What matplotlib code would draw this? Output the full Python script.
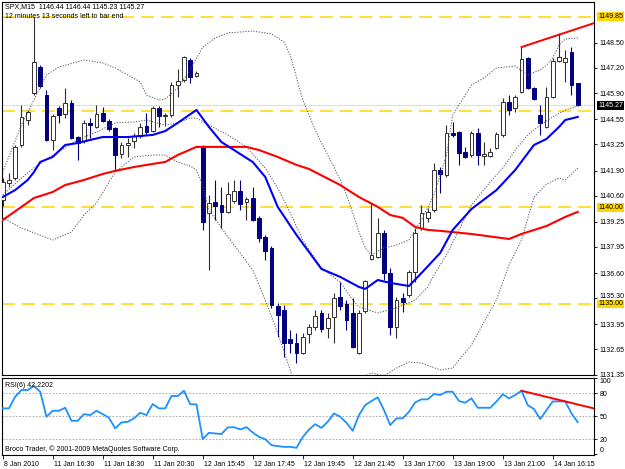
import numpy as np
import matplotlib
matplotlib.use("Agg")
import matplotlib.pyplot as plt
from matplotlib.transforms import blended_transform_factory, ScaledTranslation

plt.rcParams['font.family'] = ['Liberation Sans', 'DejaVu Sans']

# M15 bars (bar 0 = 8 Jan 21:15 ... bar 92 = 14 Jan 16:30)
opens = [1140.38, 1141.26, 1141.51, 1143.22, 1144.51, 1145.91, 1147.25, 1145.80, 1143.48, 1145.13,
         1144.82, 1145.39, 1143.63, 1143.43, 1144.36, 1144.15, 1144.87, 1144.46, 1144.10, 1142.75,
         1143.22, 1143.43, 1143.69, 1144.20, 1143.94, 1145.13, 1144.72, 1144.77, 1146.32, 1146.58,
         1147.61, 1146.79, 1143.12, 1139.71, 1140.27, 1140.12, 1139.76, 1140.33, 1140.84, 1140.27,
         1140.48, 1139.45, 1138.47, 1137.90, 1134.90, 1134.69, 1133.19, 1132.99, 1132.47, 1133.45,
         1133.81, 1134.54, 1133.76, 1134.33, 1135.36, 1135.00, 1134.54, 1132.47, 1134.64, 1137.33,
         1137.43, 1138.67, 1136.60, 1133.81, 1135.31, 1135.47, 1136.66, 1138.93, 1139.45, 1139.86,
         1141.93, 1141.67, 1143.84, 1143.89, 1142.86, 1142.70, 1143.84, 1142.65, 1142.65, 1143.06,
         1143.74, 1145.44, 1145.13, 1145.96, 1147.71, 1146.16, 1144.77, 1144.15, 1145.70, 1147.56,
         1147.51, 1148.03, 1146.44]
highs = [1141.51, 1141.77, 1143.22, 1145.29, 1145.03, 1149.83, 1147.35, 1146.06, 1144.82, 1145.23,
         1146.16, 1145.54, 1143.69, 1144.51, 1144.61, 1145.29, 1145.18, 1144.56, 1144.15, 1143.37,
         1143.58, 1143.84, 1144.36, 1144.87, 1145.23, 1145.23, 1144.87, 1146.47, 1147.15, 1147.82,
         1147.71, 1147.04, 1143.22, 1140.64, 1141.41, 1141.05, 1141.31, 1141.41, 1141.41, 1140.53,
         1141.05, 1139.55, 1138.57, 1138.00, 1135.05, 1134.95, 1133.66, 1133.50, 1133.50, 1133.97,
         1134.69, 1134.69, 1134.54, 1135.57, 1136.14, 1135.21, 1135.31, 1134.69, 1136.24, 1140.22,
         1139.45, 1138.83, 1136.86, 1135.36, 1135.57, 1136.76, 1138.93, 1140.12, 1139.96, 1142.29,
         1142.08, 1144.25, 1144.41, 1143.94, 1143.12, 1143.94, 1144.10, 1143.37, 1143.06, 1143.89,
         1145.65, 1145.80, 1145.80, 1148.28, 1147.77, 1146.22, 1145.29, 1146.22, 1147.71, 1149.01,
         1148.13, 1148.28, 1146.44]
lows = [1140.07, 1141.05, 1141.41, 1143.12, 1144.25, 1145.80, 1146.16, 1143.43, 1142.96, 1144.36,
        1144.61, 1143.53, 1142.44, 1143.32, 1143.58, 1144.10, 1144.41, 1143.94, 1141.93, 1142.55,
        1142.60, 1143.06, 1143.58, 1143.79, 1143.89, 1144.15, 1144.20, 1144.67, 1145.70, 1146.47,
        1146.42, 1146.73, 1138.83, 1136.76, 1139.34, 1138.93, 1139.71, 1140.22, 1139.86, 1139.34,
        1139.29, 1138.21, 1137.28, 1134.80, 1133.30, 1132.26, 1132.47, 1131.95, 1132.42, 1132.99,
        1133.66, 1133.56, 1133.25, 1132.99, 1134.69, 1133.66, 1132.73, 1132.42, 1134.54, 1137.28,
        1137.38, 1136.24, 1133.40, 1133.25, 1134.59, 1135.36, 1136.14, 1138.83, 1139.24, 1139.76,
        1140.74, 1141.57, 1143.63, 1142.19, 1142.55, 1142.60, 1142.19, 1142.19, 1142.60, 1143.01,
        1143.63, 1144.77, 1144.92, 1145.91, 1146.11, 1145.54, 1143.74, 1144.10, 1145.65, 1147.51,
        1146.47, 1145.80, 1145.23]
closes = [1141.31, 1141.41, 1143.12, 1144.67, 1144.92, 1147.51, 1146.27, 1143.48, 1144.72, 1144.77,
          1145.39, 1143.58, 1143.32, 1144.36, 1144.25, 1144.82, 1144.46, 1144.05, 1142.70, 1143.22,
          1143.32, 1143.69, 1144.15, 1143.89, 1145.13, 1144.72, 1144.77, 1146.32, 1146.53, 1147.77,
          1146.73, 1146.94, 1139.24, 1140.22, 1140.07, 1139.76, 1140.69, 1140.84, 1140.17, 1140.43,
          1139.34, 1138.41, 1137.74, 1134.95, 1134.43, 1132.99, 1132.99, 1132.47, 1133.30, 1133.81,
          1134.38, 1133.71, 1134.28, 1135.31, 1134.90, 1134.18, 1132.78, 1134.54, 1136.19, 1137.54,
          1138.67, 1136.60, 1133.81, 1135.21, 1135.11, 1136.66, 1138.67, 1139.71, 1139.76, 1141.93,
          1141.72, 1143.84, 1143.74, 1142.81, 1142.60, 1143.84, 1142.70, 1142.75, 1142.86, 1143.79,
          1145.44, 1145.03, 1145.70, 1147.66, 1146.16, 1145.60, 1144.36, 1145.70, 1147.56, 1147.77,
          1147.71, 1146.32, 1145.27]

# blue moving average
blue_idx = [0, 2, 4, 5, 6, 8, 10, 12, 14, 16, 20, 24, 26, 28, 31, 33, 35, 37, 40, 42, 44, 47, 49,
            51, 54, 57, 58, 60, 62, 65, 67, 70, 72, 75, 79, 82, 85, 87, 89, 90, 92]
blue_val = [1140.53, 1140.89, 1141.41, 1141.82, 1142.34, 1142.60, 1143.22, 1143.32, 1143.48, 1143.63,
            1143.63, 1143.74, 1143.94, 1144.36, 1145.03, 1144.15, 1143.37, 1142.96, 1142.34, 1141.57,
            1140.02, 1138.57, 1137.69, 1136.81, 1136.40, 1135.88, 1135.78, 1136.24, 1136.09, 1135.93,
            1136.60, 1137.64, 1138.83, 1139.91, 1140.89, 1141.93, 1143.22, 1143.53, 1144.15, 1144.51,
            1144.67]

# red moving average
red_idx = [0, 3, 5, 8, 10, 13, 16, 18, 21, 24, 26, 28, 31, 34, 39, 41, 44, 47, 49, 54, 57, 60, 62,
           64, 66, 68, 70, 75, 81, 83, 87, 90, 92]
red_val = [1139.34, 1140.02, 1140.48, 1140.79, 1141.15, 1141.41, 1141.72, 1141.88, 1142.08, 1142.24,
           1142.34, 1142.70, 1143.12, 1143.12, 1143.12, 1142.96, 1142.60, 1142.19, 1141.98, 1141.15,
           1140.53, 1140.02, 1139.60, 1139.45, 1138.98, 1138.83, 1138.78, 1138.62, 1138.36, 1138.62,
           1139.03, 1139.50, 1139.76]

# Bollinger bands (dotted)
bbu_idx = [0, 3, 5, 7, 9, 13, 16, 18, 20, 22, 23, 25, 26, 28, 30, 32, 34, 36, 40, 43, 45, 46, 48, 50,
           51, 53, 54, 55, 56, 57, 58, 59, 61, 63, 65, 67, 69, 71, 72, 73, 75, 77, 79, 82, 84, 86, 87,
           88, 89, 90, 92]
bbu_val = [1141.82, 1144.25, 1145.55, 1146.84, 1147.25, 1147.61, 1147.46, 1147.20, 1146.84, 1146.48,
           1145.80, 1145.55, 1145.60, 1146.17, 1147.10, 1148.28, 1148.75, 1149.01, 1149.11, 1148.96,
           1148.54, 1147.87, 1145.55, 1144.00, 1143.32, 1142.08, 1141.41, 1140.64, 1139.71, 1138.72,
           1137.90, 1137.54, 1137.90, 1138.05, 1138.31, 1139.34, 1140.64, 1142.70, 1144.77, 1145.29,
           1146.32, 1146.68, 1147.20, 1147.30, 1146.84, 1147.10, 1147.35, 1147.71, 1148.39, 1148.70,
           1148.75]
bbm_idx = [0, 3, 5, 8, 12, 15, 18, 21, 23, 26, 28, 30, 31, 33, 36, 39, 42, 44, 46, 48, 51, 54, 56,
           57, 60, 63, 66, 68, 69, 71, 73, 75, 78, 80, 82, 84, 86, 88, 90, 92]
bbm_val = [1140.64, 1141.51, 1142.03, 1142.70, 1143.48, 1143.89, 1144.36, 1144.41, 1144.51, 1144.25,
           1144.36, 1144.61, 1144.61, 1144.25, 1143.74, 1143.12, 1142.03, 1141.00, 1139.71, 1138.31,
           1136.86, 1136.14, 1135.21, 1134.85, 1134.54, 1134.80, 1135.21, 1135.88, 1136.50, 1137.54,
           1138.83, 1140.12, 1141.31, 1142.03, 1142.96, 1143.74, 1144.25, 1144.67, 1145.03, 1145.24]
bbl_idx = [0, 3, 8, 11, 13, 15, 18, 21, 24, 26, 28, 30, 31, 32, 33, 35, 37, 40, 42, 44, 46, 47, 50,
           55, 57, 59, 61, 63, 65, 67, 70, 72, 73, 75, 77, 79, 81, 83, 85, 87, 89, 90, 92]
bbl_val = [1139.45, 1138.93, 1138.31, 1138.72, 1139.60, 1140.22, 1141.82, 1142.60, 1142.70, 1142.70,
           1142.34, 1142.13, 1141.93, 1141.15, 1139.86, 1138.93, 1138.05, 1136.76, 1135.21, 1133.50,
           1131.59, 1130.56, 1129.52, 1130.04, 1131.07, 1131.44, 1131.28, 1131.69, 1132.00, 1131.95,
           1131.59, 1131.69, 1132.11, 1132.88, 1134.07, 1135.21, 1137.02, 1138.31, 1140.53, 1141.20,
           1141.51, 1141.41, 1142.03]

rsi = [60.3, 60.3, 75.5, 84.3, 84.3, 89.6, 82.1, 49.3, 57.2, 57.2,
       61.1, 44.0, 44.0, 52.8, 51.5, 57.2, 52.8, 48.0, 34.0, 41.9,
       42.7, 47.2, 54.5, 51.5, 66.0, 60.3, 60.3, 76.5, 76.5, 83.4,
       65.6, 65.6, 20.0, 28.3, 27.4, 26.6, 35.3, 35.7, 32.7, 35.7,
       28.7, 23.0, 20.0, 12.1, 10.8, 9.9, 9.9, 8.6, 22.7, 32.4,
       39.6, 34.7, 42.7, 53.7, 49.3, 41.4, 30.9, 51.5, 64.6, 69.9,
       74.7, 58.1, 38.4, 47.2, 47.2, 55.8, 68.2, 72.1, 72.1, 79.1,
       77.8, 82.1, 82.1, 69.9, 67.7, 73.4, 61.1, 61.1, 61.1, 69.4,
       78.7, 73.4, 77.8, 83.4, 64.6, 59.4, 46.3, 58.1, 69.4, 69.4,
       69.4, 53.7, 42.2]

level_lines = [1149.85, 1145.00, 1140.00, 1135.00]
level_labels = [1149.85, 1140.00, 1135.00]
bid = 1145.27
price_ticks = [1148.50, 1147.20, 1145.90, 1144.55, 1143.25, 1141.90, 1140.60, 1139.25,
               1137.95, 1136.60, 1135.30, 1133.95, 1132.65, 1131.35]
price_trend = [(83, 1148.28), (89, 1148.92)]
rsi_trend = [(83, 83.4), (90, 69.4)]
rsi_levels = [80, 50, 20]
time_idx = [0, 8, 16, 24, 32, 40, 48, 56, 64, 72, 80, 88]
time_labels = ["8 Jan 2010", "11 Jan 16:30", "11 Jan 18:30", "11 Jan 20:30", "12 Jan 15:45",
               "12 Jan 17:45", "12 Jan 19:45", "12 Jan 21:45", "13 Jan 17:00", "13 Jan 19:00",
               "13 Jan 21:00", "14 Jan 16:15"]

W, H = 625, 469
fig = plt.figure(figsize=(W / 100, H / 100), dpi=100)
fig.patch.set_facecolor('white')


def px_axes(x0, y0, x1, y1):
    return fig.add_axes([x0 / W, 1 - y1 / H, (x1 - x0) / W, (y1 - y0) / H])


ax = px_axes(2, 2, 594, 375)
ax2 = px_axes(2, 378, 594, 455)
XMAX = 94.6

# candles
o, h, l, c = map(np.array, (opens, highs, lows, closes))
bars = np.arange(len(o))
up = c >= o
ax.vlines(bars[up], l[up], h[up], color='#303030', lw=0.8, zorder=3)
ax.vlines(bars[~up], l[~up], h[~up], color='#000080', lw=0.8, zorder=3)
lo = np.minimum(o, c)
bh = np.maximum(np.abs(c - o), 0.05)
ax.bar(bars[up], bh[up], 0.62, bottom=lo[up], color='white', edgecolor='#303030', lw=0.7, zorder=4)
ax.bar(bars[~up], bh[~up], 0.62, bottom=lo[~up], color='#000080', edgecolor='#000080', lw=0.7, zorder=4)

# indicators
dots = (0, (1.2, 1.6))
ax.plot(bbu_idx, bbu_val, color='#505050', lw=0.7, ls=dots, zorder=5)
ax.plot(bbm_idx, bbm_val, color='#505050', lw=0.7, ls=dots, zorder=5)
ax.plot(bbl_idx, bbl_val, color='#505050', lw=0.7, ls=dots, zorder=5)
ax.plot(red_idx, red_val, color='#FF0000', lw=1.5, zorder=6)
ax.plot(blue_idx, blue_val, color='#0000FF', lw=1.5, zorder=6)

for lvl in level_lines:
    ax.axhline(lvl, color='#FFD700', lw=1.1, ls=(0, (8.5, 4.5)), zorder=2)
ax.axhline(bid, color='#B0B0B0', lw=0.6, ls=(0, (1, 1)), zorder=2)

(x0, y0), (x1, y1) = price_trend
slope = (y1 - y0) / (x1 - x0)
ax.plot([x0, XMAX], [y0, y0 + slope * (XMAX - x0)], color='#FF0000', lw=1.4, zorder=7)

ax.set_xlim(-0.11, XMAX)
ax.set_ylim(1131.33, 1150.61)
ax.set_xticks([])
ax.yaxis.tick_right()
ax.set_yticks(price_ticks)
ax.set_yticklabels([f'{p:.2f}' for p in price_ticks])
ax.tick_params(axis='y', direction='out', length=2.5, width=0.6, labelsize=5, pad=1.5, colors='black')
for s in ax.spines.values():
    s.set_linewidth(0.8)
# nudge the label sitting just above the 1135.00 box
for lab in ax.get_yticklabels():
    if lab.get_text() == '1135.30':
        lab.set_transform(lab.get_transform() + ScaledTranslation(0, 2.5 / 100, fig.dpi_scale_trans))

trans = blended_transform_factory(ax.transAxes, ax.transData)
for lvl in level_labels:
    ax.text(1 + 4 / 592, lvl, f'{lvl:.2f}', transform=trans, ha='left', va='center', fontsize=5,
            bbox=dict(boxstyle='square,pad=0.12', fc='#FFD700', ec='none'), clip_on=False, zorder=10)
ax.text(1 + 4 / 592, bid, f'{bid:.2f}', transform=trans, ha='left', va='center', fontsize=5,
        color='white', bbox=dict(boxstyle='square,pad=0.12', fc='black', ec='none'), clip_on=False, zorder=11)

# RSI panel
ax2.plot(bars, rsi, color='#1E90FF', lw=1.3, zorder=3)
for lv in rsi_levels:
    ax2.axhline(lv, color='#A0A0A0', lw=0.6, ls=(0, (2, 2)), zorder=1)
(x0, y0), (x1, y1) = rsi_trend
slope = (y1 - y0) / (x1 - x0)
ax2.plot([x0, XMAX], [y0, y0 + slope * (XMAX - x0)], color='#FF0000', lw=1.4, zorder=4)
ax2.set_xlim(-0.11, XMAX)
ax2.set_ylim(-0.8, 100.1)
ax2.yaxis.tick_right()
ax2.set_yticks([100, 80, 50, 20, 0])
ax2.set_yticklabels(['100', '80', '50', '20', '0'])
ax2.tick_params(axis='y', direction='out', length=2.5, width=0.6, labelsize=5, pad=1.5)
yl = ax2.get_yticklabels()
yl[0].set_va('top')
yl[-1].set_va('bottom')
ax2.set_xticks(time_idx)
ax2.set_xticklabels(time_labels, ha='left')
ax2.tick_params(axis='x', direction='out', length=3, width=0.6, labelsize=5, pad=1.5)
for lab in ax2.get_xticklabels():
    lab.set_transform(lab.get_transform() + ScaledTranslation(1.5 / 100, 0, fig.dpi_scale_trans))
for s in ax2.spines.values():
    s.set_linewidth(0.8)

# captions
fig.text(5 / W, 1 - 7 / H, 'SPX,M15  1146.44 1146.44 1145.23 1145.27', fontsize=5, va='center')
fig.text(5 / W, 1 - 16 / H, '12 minutes 13 seconds left to bar end', fontsize=5, va='center')
fig.text(5 / W, 1 - 385 / H, 'RSI(6) 42.2202', fontsize=5, va='center')
fig.text(5 / W, 1 - 449 / H, 'Broco Trader, \u00a9 2001-2009 MetaQuotes Software Corp.', fontsize=5, va='center')

fig.savefig('out.png', dpi=100)
